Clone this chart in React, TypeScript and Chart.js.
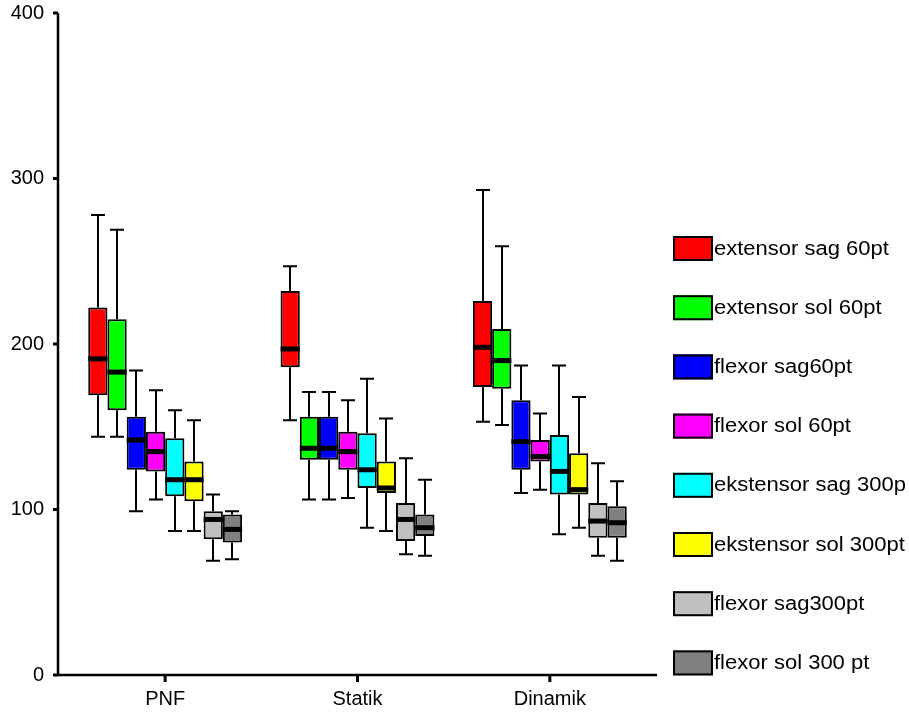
import { useEffect, useRef } from "react";
import { Chart, registerables } from "chart.js";

Chart.register(...registerables);

// Categories (x axis)
const categories = ["PNF", "Statik", "Dinamik"];

// Series labels and colours
const seriesLabels = [
  "extensor sag 60pt",
  "extensor sol 60pt",
  "flexor sag60pt",
  "flexor sol 60pt",
  "ekstensor sag 300p",
  "ekstensor sol 300pt",
  "flexor sag300pt",
  "flexor sol 300 pt",
];
const seriesColors = ["#FF0000", "#00FF00", "#0000FF", "#FF00FF", "#00FFFF", "#FFFF00", "#C0C0C0", "#808080"];

// Each entry: [min, q1, median, q3, max] for PNF, Statik, Dinamik
const extensorSag60 = [[144, 169, 191, 222, 278], [154, 186, 197, 232, 247], [153, 174, 198, 226, 293]];
const extensorSol60 = [[144, 160, 183, 215, 269], [106, 130, 137, 156, 171], [151, 173, 190, 209, 259]];
const flexorSag60 = [[99, 124, 142, 156, 184], [106, 130, 137, 156, 171], [110, 124, 141, 166, 187]];
const flexorSol60 = [[106, 123, 135, 147, 172], [107, 124, 135, 147, 166], [112, 129, 132, 142, 158]];
const ekstensorSag300 = [[87, 108, 118, 143, 160], [89, 113, 124, 146, 179], [85, 109, 123, 145, 187]];
const ekstensorSol300 = [[87, 105, 118, 129, 154], [87, 110, 113, 129, 155], [89, 109, 112, 134, 168]];
const flexorSag300 = [[69, 82, 94, 99, 109], [73, 81, 94, 104, 131], [72, 83, 93, 104, 128]];
const flexorSol300 = [[70, 80, 88, 97, 99], [72, 84, 89, 97, 118], [69, 83, 92, 102, 117]];

const seriesStats = [
  extensorSag60,
  extensorSol60,
  flexorSag60,
  flexorSol60,
  ekstensorSag300,
  ekstensorSol300,
  flexorSag300,
  flexorSol300,
];

const yTickValues = [0, 100, 200, 300, 400];

const FONT = '"Liberation Sans", Arial, sans-serif';

const boxPlotPlugin = {
  id: "boxWhiskers",
  beforeDatasetsDraw(chart: any) {
    const ctx = chart.ctx;
    const y = chart.scales.y;
    ctx.save();
    ctx.strokeStyle = "#000";
    ctx.lineWidth = 2;
    chart.data.datasets.forEach((ds: any, i: number) => {
      const meta = chart.getDatasetMeta(i);
      meta.data.forEach((bar: any, j: number) => {
        const s = ds.stats[j];
        const x = Math.round(bar.x);
        const yMin = y.getPixelForValue(s[0]);
        const yQ1 = y.getPixelForValue(s[1]);
        const yQ3 = y.getPixelForValue(s[3]);
        const yMax = y.getPixelForValue(s[4]);
        ctx.beginPath();
        ctx.moveTo(x, yMax);
        ctx.lineTo(x, yQ3);
        ctx.moveTo(x, yQ1);
        ctx.lineTo(x, yMin);
        ctx.moveTo(x - 7, yMax);
        ctx.lineTo(x + 7, yMax);
        ctx.moveTo(x - 7, yMin);
        ctx.lineTo(x + 7, yMin);
        ctx.stroke();
      });
    });
    ctx.restore();
  },
  afterDatasetsDraw(chart: any) {
    const ctx = chart.ctx;
    const y = chart.scales.y;
    ctx.save();
    ctx.strokeStyle = "#000";
    ctx.lineWidth = 5;
    chart.data.datasets.forEach((ds: any, i: number) => {
      const meta = chart.getDatasetMeta(i);
      meta.data.forEach((bar: any, j: number) => {
        const s = ds.stats[j];
        const yMed = y.getPixelForValue(s[2]);
        ctx.beginPath();
        ctx.moveTo(bar.x - bar.width / 2, yMed);
        ctx.lineTo(bar.x + bar.width / 2, yMed);
        ctx.stroke();
      });
    });
    ctx.restore();
  },
};

const axesPlugin = {
  id: "customAxes",
  afterDraw(chart: any) {
    const ctx = chart.ctx;
    const { left, right, bottom } = chart.chartArea;
    const x = chart.scales.x;
    const y = chart.scales.y;
    const axisX = left - 11;
    ctx.save();
    ctx.strokeStyle = "#000";
    ctx.fillStyle = "#000";
    ctx.lineWidth = 2.5;
    ctx.beginPath();
    ctx.moveTo(axisX, y.getPixelForValue(400));
    ctx.lineTo(axisX, bottom);
    ctx.lineTo(right + 11, bottom);
    ctx.stroke();
    yTickValues.forEach((v) => {
      const py = y.getPixelForValue(v);
      ctx.fillRect(axisX - 5, py - 1.5, 5, 3);
    });
    categories.forEach((_, i) => {
      const px = x.getPixelForValue(i);
      ctx.fillRect(px - 1.5, bottom + 1, 3, 6);
    });
    ctx.restore();
  },
};

const legendPlugin = {
  id: "sideLegend",
  afterDraw(chart: any) {
    const ctx = chart.ctx;
    const bx = chart.chartArea.right + 27;
    const top0 = 236;
    const step = 59.2;
    ctx.save();
    chart.data.datasets.forEach((ds: any, i: number) => {
      const top = top0 + i * step;
      ctx.fillStyle = ds.backgroundColor;
      ctx.fillRect(bx, top, 40, 25);
      ctx.strokeStyle = "#000";
      ctx.lineWidth = 2;
      ctx.strokeRect(bx + 1, top + 1, 38, 23);
      ctx.save();
      ctx.translate(bx + 41, top + 13);
      ctx.scale(1.1, 1);
      ctx.fillStyle = "#000";
      ctx.font = `20px ${FONT}`;
      ctx.textBaseline = "middle";
      ctx.textAlign = "left";
      ctx.fillText(ds.label, 0, 0);
      ctx.restore();
    });
    ctx.restore();
  },
};

export default function App() {
  const canvasRef = useRef<HTMLCanvasElement | null>(null);

  useEffect(() => {
    if (!canvasRef.current) return;
    const chart = new Chart(canvasRef.current, {
      type: "bar",
      data: {
        labels: categories,
        datasets: seriesStats.map((stats, i) => ({
          label: seriesLabels[i],
          data: stats.map((s) => [s[1], s[3]]),
          stats,
          backgroundColor: seriesColors[i],
          borderColor: "#000",
          borderWidth: 2,
          borderSkipped: false,
          categoryPercentage: 0.8,
          barPercentage: 1.0,
        })) as any,
      },
      options: {
        animation: false,
        responsive: false,
        events: [],
        layout: { padding: { left: 0, right: 263, top: 0, bottom: 0 } },
        plugins: {
          legend: { display: false },
          tooltip: { enabled: false },
        },
        scales: {
          x: {
            type: "category",
            offset: true,
            grid: { display: false, drawTicks: false },
            border: { display: false },
            ticks: { color: "#000", font: { family: FONT, size: 20 }, padding: 12, maxRotation: 0 },
            afterFit: (scale: any) => {
              scale.height = 42;
              scale.paddingLeft = 0;
              scale.paddingRight = 0;
            },
          },
          y: {
            type: "linear",
            min: 0,
            max: 400,
            grid: { display: false, drawTicks: false },
            border: { display: false },
            ticks: {
              stepSize: 100,
              color: "#000",
              font: { family: FONT, size: 20 },
              padding: 25,
            },
            afterFit: (scale: any) => {
              scale.width = 69;
              scale.paddingTop = 13;
              scale.paddingBottom = 0;
            },
          },
        },
      },
      plugins: [boxPlotPlugin, axesPlugin, legendPlugin],
    } as any);
    return () => chart.destroy();
  }, []);

  return (
    <div style={{ position: "absolute", left: 0, top: 0, width: 909, height: 717, background: "#fff" }}>
      <canvas ref={canvasRef} width={909} height={717} style={{ display: "block" }} />
    </div>
  );
}
